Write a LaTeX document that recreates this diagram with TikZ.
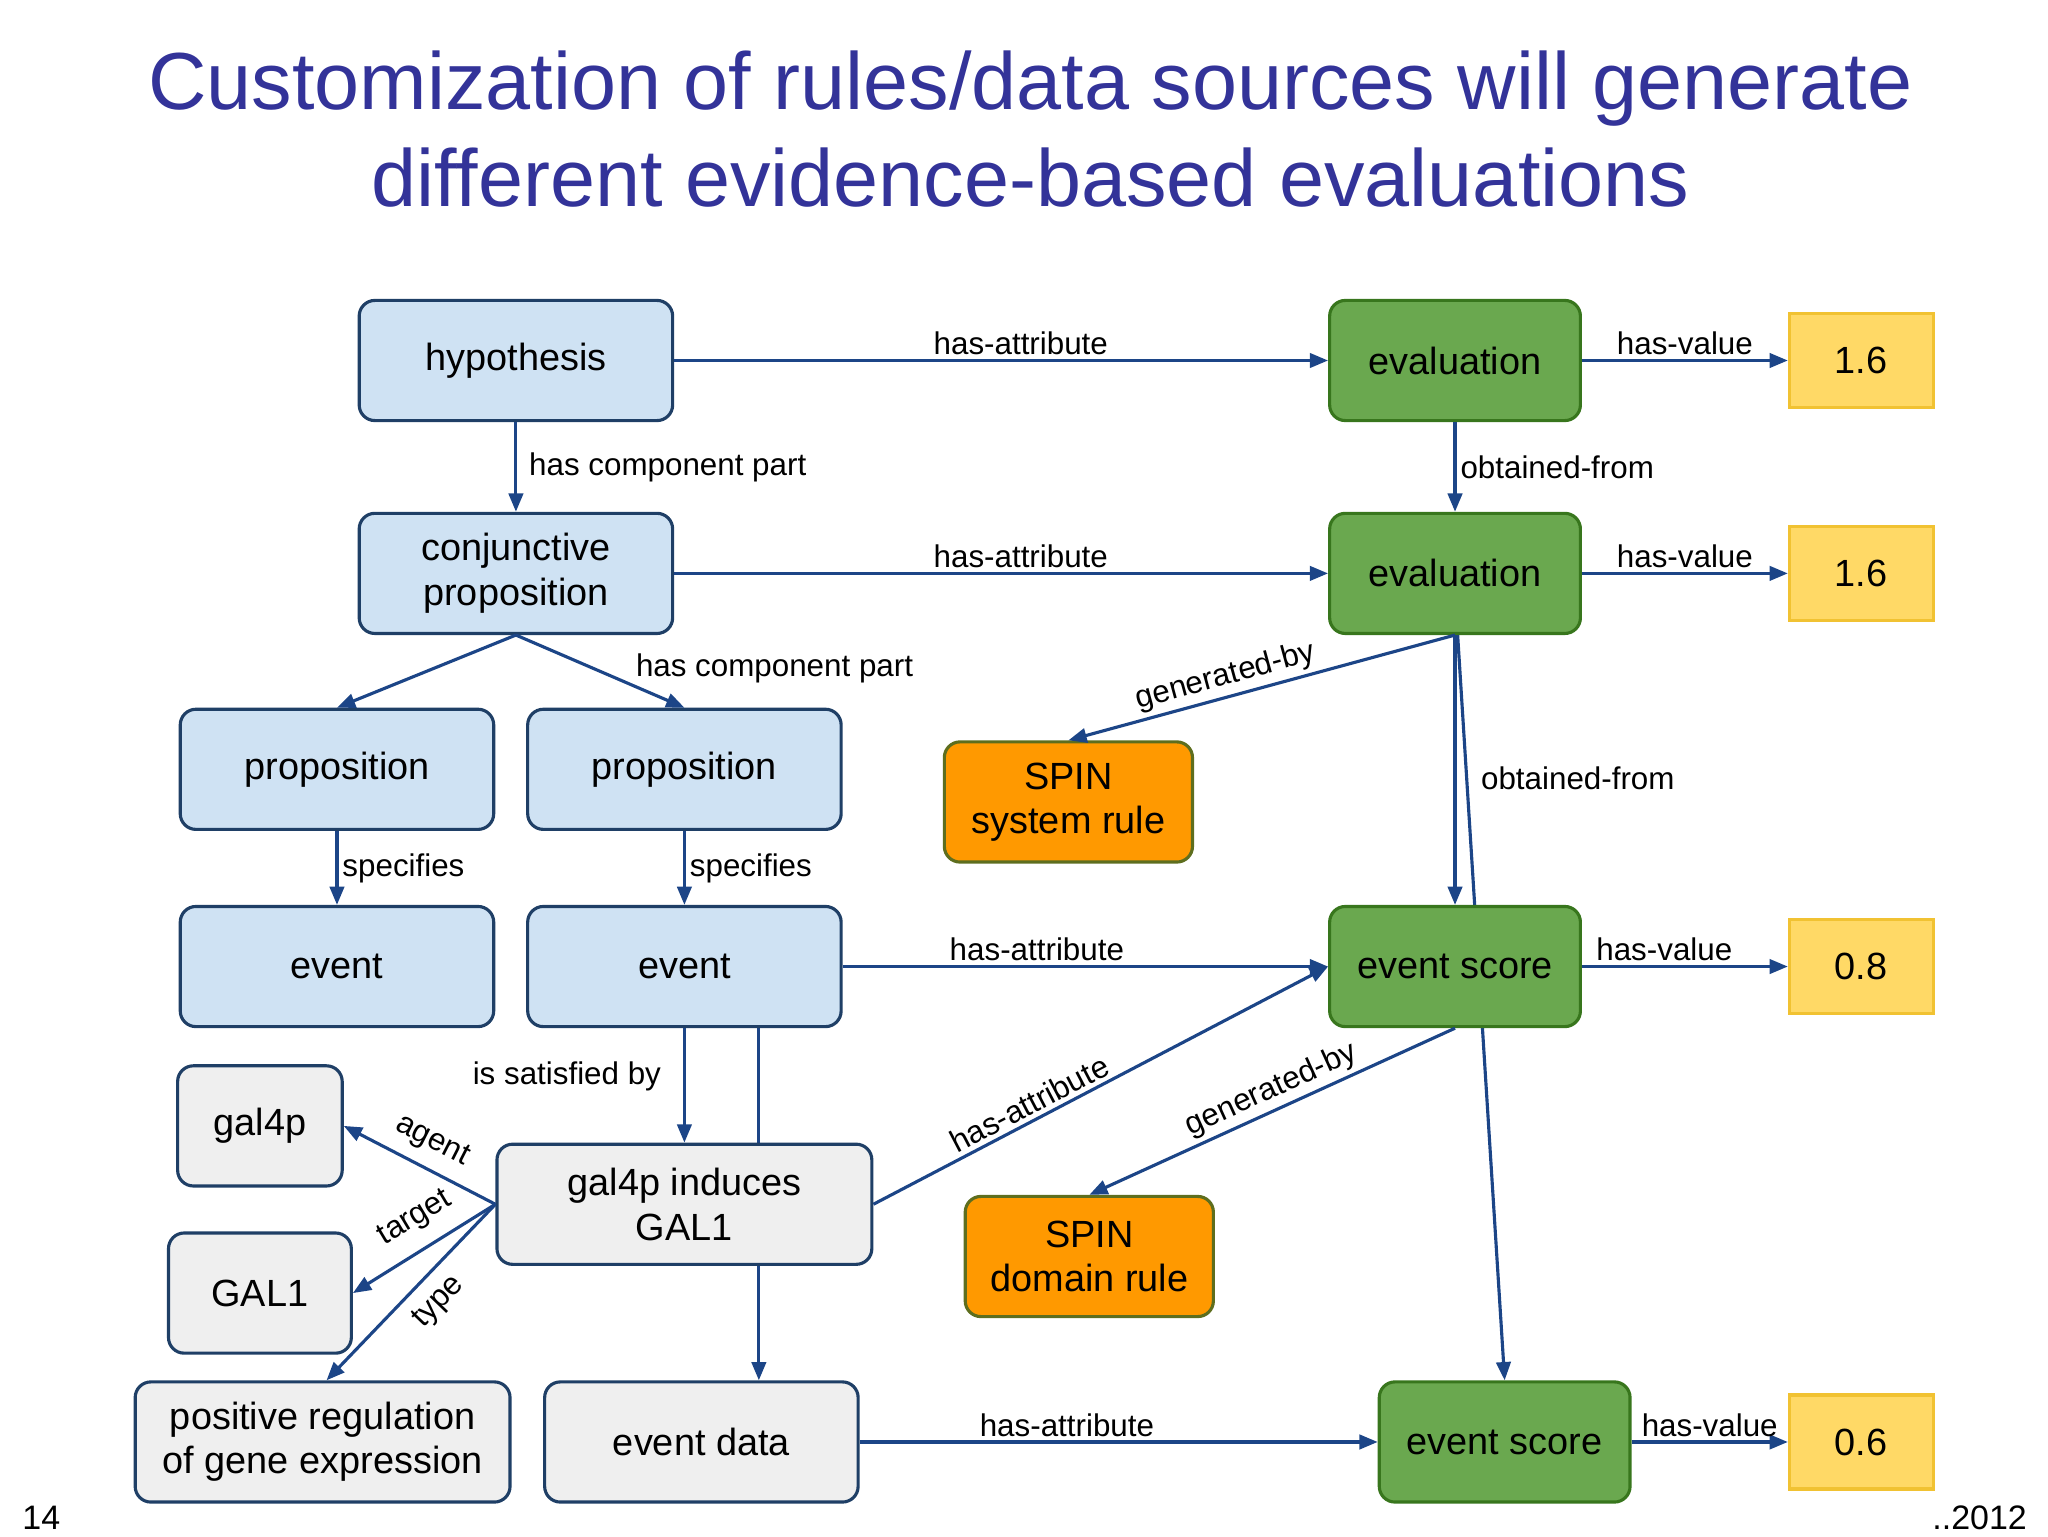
\documentclass[tikz,border=0pt]{standalone}
\usepackage{fontspec}
\setmainfont{Liberation Sans}
\usetikzlibrary{arrows.meta,backgrounds}
\definecolor{bfill}{HTML}{CFE2F3}
\definecolor{bdraw}{HTML}{1F3F66}
\definecolor{gfill}{HTML}{EFEFEF}
\definecolor{grfill}{HTML}{6AA84F}
\definecolor{grdraw}{HTML}{38761D}
\definecolor{ofill}{HTML}{FF9900}
\definecolor{odraw}{HTML}{5E6E1E}
\definecolor{yfill}{HTML}{FFD966}
\definecolor{ydraw}{HTML}{F1C232}
\definecolor{edge}{HTML}{1C4587}
\definecolor{title}{HTML}{333399}
\tikzset{
 box/.style={draw, line width=2.4pt, rounded corners=12pt, align=center, inner sep=0pt,
   font=\fontsize{29}{34}\selectfont},
 blue/.style={box, fill=bfill, draw=bdraw, minimum width=240pt, minimum height=92pt},
 grey/.style={box, fill=gfill, draw=bdraw, minimum height=92pt},
 green/.style={box, fill=grfill, draw=grdraw, minimum width=192pt, minimum height=92pt},
 orange/.style={box, fill=ofill, draw=odraw, minimum width=190pt, minimum height=92pt},
 val/.style={box, rounded corners=0pt, fill=yfill, draw=ydraw, minimum width=110pt, minimum height=72pt},
 arr/.style={draw=edge, line width=2.4pt, -{Triangle[length=14pt,width=11pt]}},
 lab/.style={font=\fontsize{24}{28}\selectfont, text=black, inner sep=3pt}
}
\begin{document}
\begin{tikzpicture}[x=1pt,y=-1pt]
\useasboundingbox (0,0) rectangle (1568,1176);
\node[font=\fontsize{62}{74}\selectfont, text=title, align=center] (t) at (789,99)
  {Customization of rules/data sources will generate\\different evidence-based evaluations};
\node[blue] (hyp) at (395,276) {hypothesis};
\node[blue] (conj) at (395,439) {conjunctive\\proposition};
\node[blue] (p1) at (258,589) {proposition};
\node[blue] (p2) at (524,589) {proposition};
\node[blue] (e1) at (258,740) {event};
\node[blue] (e2) at (524,740) {event};
\node[grey, minimum width=126pt] (g4) at (199,862) {gal4p};
\node[grey, minimum width=140pt] (gal1) at (199,990) {GAL1};
\node[grey, minimum width=287pt] (pr) at (247,1104) {positive regulation\\of gene expression};
\node[grey, minimum width=287pt] (ind) at (524,922) {gal4p induces\\GAL1};
\node[grey, minimum width=240pt] (ed) at (537,1104) {event data};
\node[green] (ev1) at (1114,276) {evaluation};
\node[green] (ev2) at (1114,439) {evaluation};
\node[orange] (ss) at (818,614) {SPIN\\system rule};
\node[green] (es1) at (1114,740) {event score};
\node[orange] (sd) at (834,962) {SPIN\\domain rule};
\node[green] (es2) at (1152,1104) {event score};
\node[val] (v1) at (1425,276) {1.6};
\node[val] (v2) at (1425,439) {1.6};
\node[val] (v3) at (1425,740) {0.8};
\node[val] (v4) at (1425,1104) {0.6};
\node[lab, anchor=west] (n14) at (14,1162) {\fontsize{26}{30}\selectfont 14};
\node[lab, anchor=east] (yr) at (1555,1162) {\fontsize{26}{30}\selectfont ..2012};

\begin{scope}[on background layer]
\draw[arr] (ev2.south) ++(2,0) coordinate (o2) -- (es2.north);
\draw[arr] (e2.south -| 581,0) -- (ed.north -| 581,0);
\end{scope}
\node[lab] at (1208,596) {obtained-from};

\draw[arr] (hyp) -- node[lab, above, pos=0.53] {has-attribute} (ev1);
\draw[arr] (ev1) -- node[lab, above] {has-value} (v1);
\draw[arr] (hyp) -- node[lab, right, xshift=6pt] {has component part} (conj);
\draw[arr] (ev1) -- node[lab, right] {obtained-from} (ev2);
\draw[arr] (conj) -- node[lab, above, pos=0.53] {has-attribute} (ev2);
\draw[arr] (ev2) -- node[lab, above] {has-value} (v2);
\draw[arr] (conj.south) -- (p1.north);
\draw[arr] (conj.south) -- (p2.north);
\node[lab] at (593,512) {has component part};
\draw[arr] (ev2.south) -- node[lab, above, sloped, pos=0.58] {generated-by} (ss.north);
\draw[arr] (ev2.south) -- (es1.north);
\draw[arr] (p1) -- node[lab, right] {specifies} (e1);
\draw[arr] (p2) -- node[lab, right] {specifies} (e2);
\draw[arr] (e2) -- node[lab, above, pos=0.4] {has-attribute} (es1);
\draw[arr] (es1) -- node[lab, above, pos=0.4] {has-value} (v3);
\draw[arr] (e2.south) -- (ind.north);
\node[lab] at (434,824) {is satisfied by};
\draw[arr] (ind.east) -- node[lab, above, sloped, pos=0.36] {has-attribute} (es1.west);
\draw[arr] (es1.south) -- node[lab, above, sloped, pos=0.48] {generated-by} (sd.north);
\draw[arr] (ind.west) -- (g4.east);
\draw[arr] (ind.west) -- (gal1.east);
\draw[arr] (ind.west) -- ([xshift=3pt]pr.north);
\node[lab, rotate=-27] at (331,874) {agent};
\node[lab, rotate=31] at (318,933) {target};
\node[lab, rotate=46] at (336,997) {type};
\draw[arr] (ed) -- node[lab, above, pos=0.4] {has-attribute} (es2);
\draw[arr] (es2) -- node[lab, above] {has-value} (v4);
\end{tikzpicture}
\end{document}
